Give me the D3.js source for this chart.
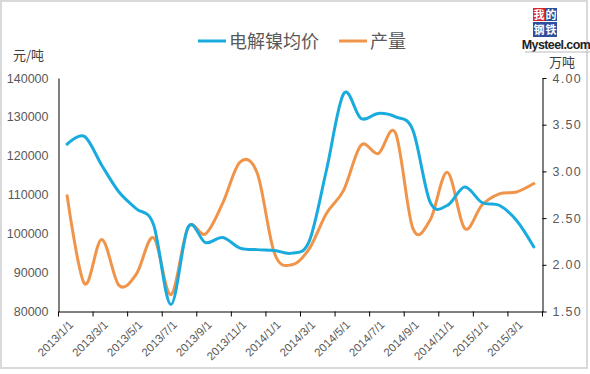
<!DOCTYPE html>
<html>
<head>
<meta charset="utf-8">
<script src="https://cdn.jsdelivr.net/npm/d3@7"></script>
<style>
  body { margin: 0; background: #fff; }
  text { font-family: "Liberation Sans", Arial, "Noto Sans CJK SC", sans-serif; }
  .cjk { font-family: "Noto Sans CJK SC", "Liberation Sans", sans-serif; }
</style>
</head>
<body>
<div id="chart"></div>
<script>
// months 2013/1 .. 2015/4
const months = [
  '2013/1/1', '2013/2/1', '2013/3/1', '2013/4/1', '2013/5/1', '2013/6/1', '2013/7/1',
  '2013/8/1', '2013/9/1', '2013/10/1', '2013/11/1', '2013/12/1', '2014/1/1', '2014/2/1',
  '2014/3/1', '2014/4/1', '2014/5/1', '2014/6/1', '2014/7/1', '2014/8/1', '2014/9/1',
  '2014/10/1', '2014/11/1', '2014/12/1', '2015/1/1', '2015/2/1', '2015/3/1', '2015/4/1'
];

// 电解镍均价 (元/吨)
const price = [
  123000, 125000, 117600, 110700, 106400, 102300, 81800,
  101700, 97700, 99000, 96300, 95900, 95700, 95000,
  98000, 116300, 136000, 129600, 130900, 130000, 126600,
  108100, 107300, 112000, 108000, 107300, 103400, 96600
];

// 产量 (万吨)
const output = [
  2.74, 1.80, 2.27, 1.78, 1.90, 2.29, 1.68,
  2.40, 2.33, 2.66, 3.10, 2.98, 2.12, 2.00,
  2.17, 2.55, 2.80, 3.28, 3.19, 3.41, 2.39,
  2.48, 2.99, 2.39, 2.64, 2.76, 2.78, 2.87
];

const leftTicks = [80000, 90000, 100000, 110000, 120000, 130000, 140000];
const rightTicks = [1.5, 2.0, 2.5, 3.0, 3.5, 4.0];
const seriesNames = ['电解镍均价', '产量'];
const colors = ['#1aabde', '#f0944a'];

const W = 590, H = 374;
const plot = { left: 58.5, right: 542.5, top: 78, bottom: 311.5 };

const svg = d3.select('#chart').append('svg')
  .attr('width', W)
  .attr('height', H);

// outer frame
svg.append('rect')
  .attr('x', 1).attr('y', 1)
  .attr('width', 586).attr('height', 367)
  .attr('fill', '#fff')
  .attr('stroke', '#d9d9d9')
  .attr('stroke-width', 2);

const x = d3.scaleBand().domain(months).range([plot.left, plot.right]).padding(0);
const yL = d3.scaleLinear().domain([80000, 140000]).range([plot.bottom, plot.top]);
const yR = d3.scaleLinear().domain([1.5, 4.0]).range([plot.bottom, plot.top]);
const bw = x.bandwidth();

// left axis
const leftAxis = svg.append('g')
  .attr('transform', `translate(${plot.left},0)`)
  .call(d3.axisLeft(yL).tickValues(leftTicks).tickSize(0).tickPadding(10).tickFormat(d3.format('d')));
leftAxis.selectAll('text').attr('fill', '#595959').attr('font-size', 12.5);
leftAxis.select('.domain').attr('stroke', '#000');

// right axis
const rightAxis = svg.append('g')
  .attr('transform', `translate(${plot.right},0)`)
  .call(d3.axisRight(yR).tickValues(rightTicks).tickSize(4).tickSizeOuter(0).tickPadding(6).tickFormat(d3.format('.2f')));
rightAxis.selectAll('text').attr('fill', '#595959').attr('font-size', 12.5).attr('letter-spacing', 1.3);
rightAxis.selectAll('line').attr('stroke', '#000');
rightAxis.select('.domain').attr('stroke', '#000');

// bottom axis: ticks between categories, every 2 months
const labelMonths = months.filter((d, i) => i % 2 === 0);
const bottomAxis = svg.append('g')
  .attr('transform', `translate(0,${plot.bottom})`)
  .call(d3.axisBottom(x).tickValues(labelMonths).tickSize(5).tickSizeOuter(0));
bottomAxis.select('.domain').attr('stroke', '#000');
bottomAxis.selectAll('.tick line')
  .attr('stroke', '#000')
  .attr('x1', -bw / 2).attr('x2', -bw / 2);
bottomAxis.selectAll('.tick text')
  .attr('fill', '#595959')
  .attr('font-size', 11.5)
  .attr('text-anchor', 'end')
  .attr('dy', 0)
  .attr('y', 0)
  .attr('transform', 'translate(7,14) rotate(-45)');
bottomAxis.append('line')
  .attr('x1', plot.right).attr('x2', plot.right)
  .attr('y1', 0).attr('y2', 5)
  .attr('stroke', '#000');

// lines
const linePrice = d3.line()
  .x((d, i) => x(months[i]) + bw / 2)
  .y(d => yL(d))
  .curve(d3.curveCatmullRom.alpha(0));

const lineOutput = d3.line()
  .x((d, i) => x(months[i]) + bw / 2)
  .y(d => yR(d))
  .curve(d3.curveCatmullRom.alpha(0));

svg.append('path')
  .datum(output)
  .attr('d', lineOutput)
  .attr('fill', 'none')
  .attr('stroke', colors[1])
  .attr('stroke-width', 3)
  .attr('stroke-linecap', 'round');

svg.append('path')
  .datum(price)
  .attr('d', linePrice)
  .attr('fill', 'none')
  .attr('stroke', colors[0])
  .attr('stroke-width', 3)
  .attr('stroke-linecap', 'round');

// unit labels
svg.append('text').attr('class', 'cjk')
  .attr('x', 13).attr('y', 60)
  .attr('font-size', 13).attr('fill', '#404040')
  .text('元/吨');
svg.append('text').attr('class', 'cjk')
  .attr('x', 549).attr('y', 67)
  .attr('font-size', 13).attr('fill', '#404040')
  .text('万吨');

// legend
const legendItems = [
  { name: seriesNames[0], color: colors[0], x: 198 },
  { name: seriesNames[1], color: colors[1], x: 339 }
];
const legend = svg.append('g');
legendItems.forEach(d => {
  legend.append('line')
    .attr('x1', d.x).attr('x2', d.x + 28)
    .attr('y1', 41).attr('y2', 41)
    .attr('stroke', d.color)
    .attr('stroke-width', 3);
  legend.append('text').attr('class', 'cjk')
    .attr('x', d.x + 31).attr('y', 48)
    .attr('font-size', 18).attr('fill', '#595959')
    .text(d.name);
});

// logo
const logo = svg.append('g');
logo.append('rect').attr('x', 533).attr('y', 8).attr('width', 12).attr('height', 13).attr('fill', '#d9242b');
logo.append('rect').attr('x', 545).attr('y', 8).attr('width', 12).attr('height', 13).attr('fill', '#2e4f9c');
logo.append('rect').attr('x', 533).attr('y', 22).attr('width', 24).attr('height', 15).attr('fill', '#2e4f9c');
[['我', 539, 19], ['的', 551, 19], ['钢', 539, 34], ['铁', 551, 34]].forEach(([t, tx, ty]) => {
  logo.append('text').attr('class', 'cjk')
    .attr('x', tx).attr('y', ty)
    .attr('text-anchor', 'middle')
    .attr('font-size', 11).attr('font-weight', 'bold')
    .attr('fill', '#fff')
    .text(t);
});
logo.append('text')
  .attr('x', 556).attr('y', 49)
  .attr('text-anchor', 'middle')
  .attr('font-size', 12.5).attr('font-weight', 'bold')
  .attr('letter-spacing', -0.6)
  .attr('fill', '#222')
  .text('Mysteel.com');
logo.append('line')
  .attr('x1', 525).attr('x2', 590)
  .attr('y1', 52).attr('y2', 52)
  .attr('stroke', '#bbb');
</script>
</body>
</html>
